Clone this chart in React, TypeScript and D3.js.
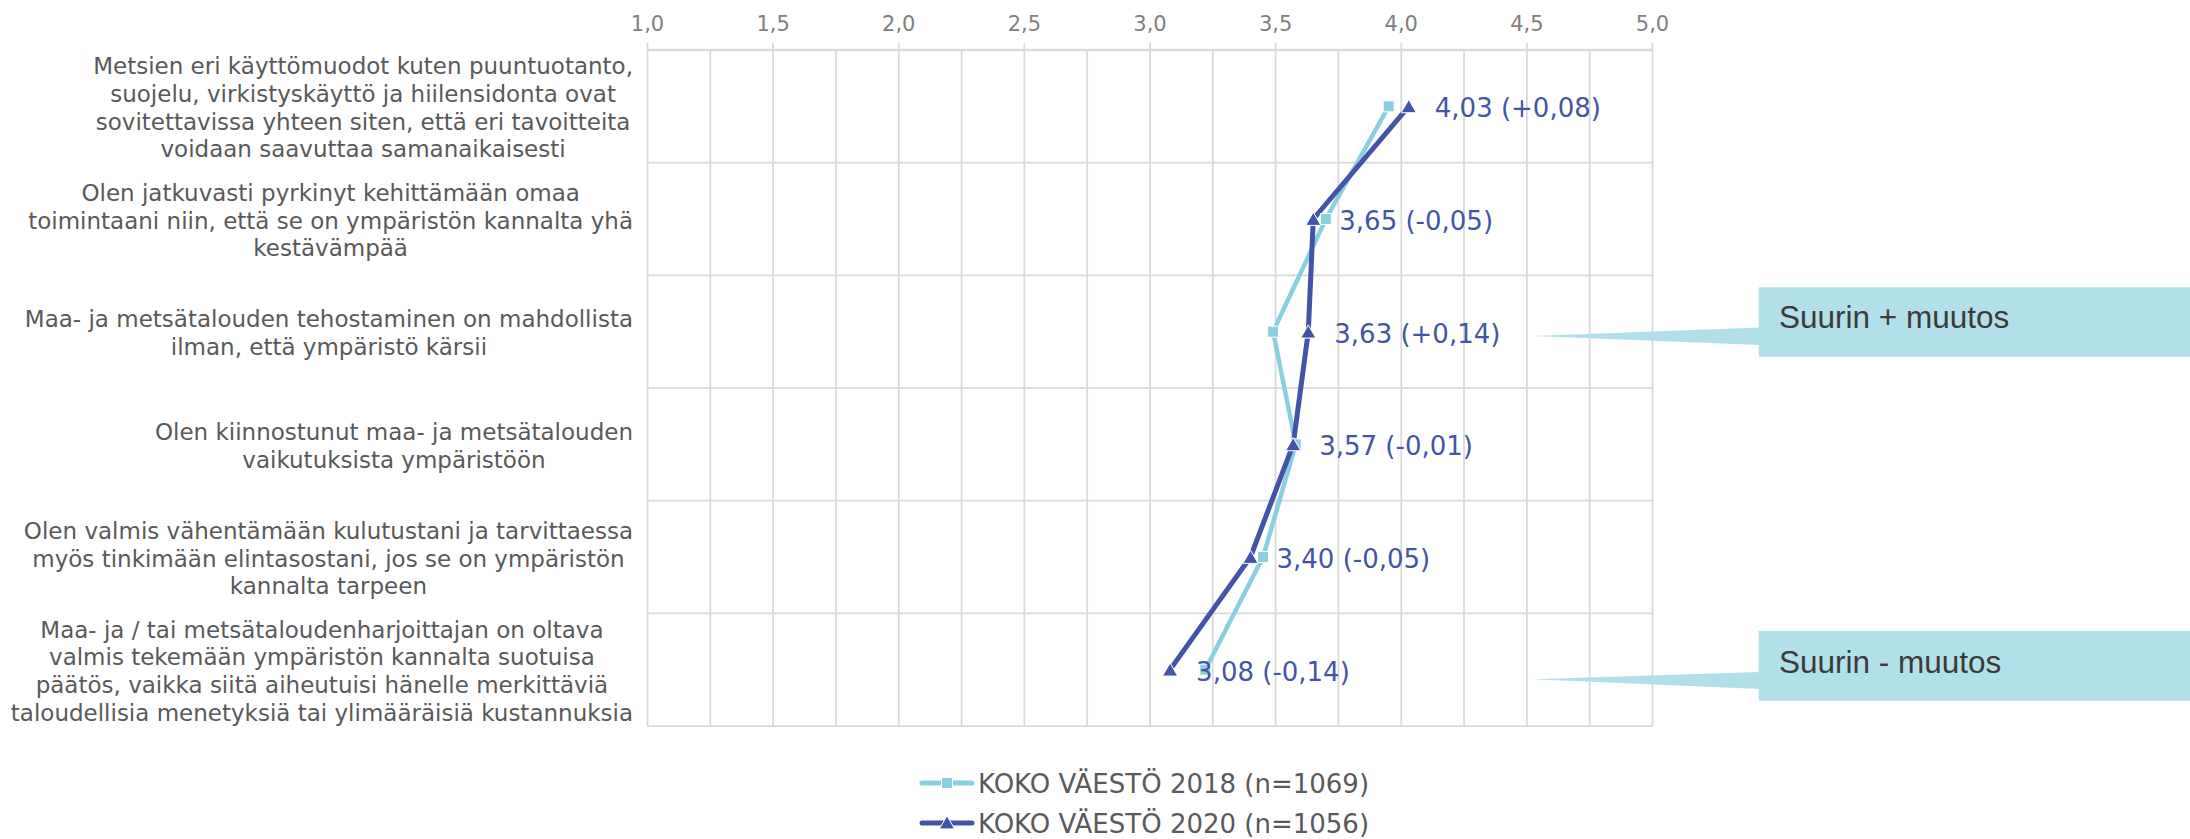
import { useEffect, useRef } from "react";
import * as d3 from "d3";

// väittämät rivitettyinä kuten alkuperäisessä kuvassa
const categories = [
  ["Metsien eri käyttömuodot kuten puuntuotanto,", "suojelu, virkistyskäyttö ja hiilensidonta ovat", "sovitettavissa yhteen siten, että eri tavoitteita", "voidaan saavuttaa samanaikaisesti"],
  ["Olen jatkuvasti pyrkinyt kehittämään omaa", "toimintaani niin, että se on ympäristön kannalta yhä", "kestävämpää"],
  ["Maa- ja metsätalouden tehostaminen on mahdollista", "ilman, että ympäristö kärsii"],
  ["Olen kiinnostunut maa- ja metsätalouden", "vaikutuksista ympäristöön"],
  ["Olen valmis vähentämään kulutustani ja tarvittaessa", "myös tinkimään elintasostani, jos se on ympäristön", "kannalta tarpeen"],
  ["Maa- ja / tai metsätaloudenharjoittajan on oltava", "valmis tekemään ympäristön kannalta suotuisa", "päätös, vaikka siitä aiheutuisi hänelle merkittäviä", "taloudellisia menetyksiä tai ylimääräisiä kustannuksia"],
];

const values2018 = [3.95, 3.7, 3.49, 3.58, 3.45, 3.22];
const values2020 = [4.03, 3.65, 3.63, 3.57, 3.4, 3.08];

const xTicks = [1, 1.5, 2, 2.5, 3, 3.5, 4, 4.5, 5];
const xGrid = [1, 1.25, 1.5, 1.75, 2, 2.25, 2.5, 2.75, 3, 3.25, 3.5, 3.75, 4, 4.25, 4.5, 4.75, 5];

const seriesNames = ["KOKO VÄESTÖ 2018 (n=1069)", "KOKO VÄESTÖ 2020 (n=1056)"];
const seriesColors = ["#89cfde", "#4354a7"];

const calloutTexts = ["Suurin + muutos", "Suurin - muutos"];

const comma = (v: number, d: number) => v.toFixed(d).replace(".", ",");

const App = () => {
  const svgRef = useRef<SVGSVGElement>(null);

  useEffect(() => {
    const W = 2190;
    const H = 839;
    const FONT = "'DejaVu Sans', Verdana, sans-serif";
    const PLOT = { left: 647.5, right: 1652.5, top: 50, bottom: 726 };

    const svg = d3.select(svgRef.current).attr("width", W).attr("height", H);
    svg.selectAll("*").remove();

    const x = d3.scaleLinear().domain([1, 5]).range([PLOT.left, PLOT.right]);
    const y = d3
      .scaleBand<number>()
      .domain(categories.map((_, i) => i))
      .range([PLOT.top, PLOT.bottom]);
    const cy = (i: number) => (y(i) as number) + y.bandwidth() / 2;

    // ruudukko
    const grid = svg.append("g").attr("stroke", "#d9d9d9").attr("stroke-width", 1.75);
    grid
      .selectAll(".vg")
      .data(xGrid)
      .enter()
      .append("line")
      .attr("x1", (d) => x(d))
      .attr("x2", (d) => x(d))
      .attr("y1", PLOT.top)
      .attr("y2", PLOT.bottom);
    grid
      .selectAll(".tick")
      .data(xTicks)
      .enter()
      .append("line")
      .attr("x1", (d) => x(d))
      .attr("x2", (d) => x(d))
      .attr("y1", PLOT.top - 7)
      .attr("y2", PLOT.top);
    const hLines = categories.map((_, i) => y(i) as number).concat([PLOT.bottom]);
    grid
      .selectAll(".hg")
      .data(hLines)
      .enter()
      .append("line")
      .attr("x1", PLOT.left)
      .attr("x2", PLOT.right)
      .attr("y1", (d) => d)
      .attr("y2", (d) => d)
      .attr("stroke-width", (d, i) => (i === 0 ? 2.5 : 1.75));

    // x-akselin tekstit
    svg
      .append("g")
      .selectAll("text")
      .data(xTicks)
      .enter()
      .append("text")
      .attr("x", (d) => x(d))
      .attr("y", 24)
      .attr("text-anchor", "middle")
      .attr("dominant-baseline", "central")
      .attr("font-family", FONT)
      .attr("font-size", 21)
      .attr("fill", "#808080")
      .text((d) => comma(d, 1));

    // luokkien tekstit, keskitetty lohko jonka oikea reuna on 632
    const LINE_H = 27.7;
    const catG = svg.append("g");
    categories.forEach((lines, i) => {
      const t = catG
        .append("text")
        .attr("font-family", FONT)
        .attr("font-size", 23)
        .attr("fill", "#595959")
        .attr("text-anchor", "middle");
      const top = cy(i) + 1.5 - ((lines.length - 1) * LINE_H) / 2;
      const spans = lines.map((line, k) =>
        t
          .append("tspan")
          .attr("y", top + k * LINE_H)
          .attr("dominant-baseline", "central")
          .text(line)
      );
      const maxW = d3.max(spans, (s) => (s.node() as SVGTSpanElement).getComputedTextLength()) || 0;
      spans.forEach((s) => s.attr("x", 633 - maxW / 2));
    });

    // sarjat
    const allValues = [values2018, values2020];
    const line = d3
      .line<number>()
      .x((d) => x(d))
      .y((_, i) => cy(i));

    allValues.forEach((vals, s) => {
      svg
        .append("path")
        .attr("d", line(vals))
        .attr("fill", "none")
        .attr("stroke", seriesColors[s])
        .attr("stroke-width", s === 0 ? 4.5 : 5)
        .attr("stroke-linejoin", "round")
        .attr("stroke-linecap", "round");
    });

    const square = d3.symbol().type(d3.symbolSquare).size(121);
    const triangle = d3.symbol().type(d3.symbolTriangle).size(100);

    svg
      .append("g")
      .selectAll("path")
      .data(values2018)
      .enter()
      .append("path")
      .attr("d", square())
      .attr("transform", (d, i) => `translate(${x(d)},${cy(i)})`)
      .attr("fill", seriesColors[0])
      .attr("stroke", "#fff")
      .attr("stroke-width", 1);

    svg
      .append("g")
      .selectAll("path")
      .data(values2020)
      .enter()
      .append("path")
      .attr("d", triangle())
      .attr("transform", (d, i) => `translate(${x(d)},${cy(i) + 2})`)
      .attr("fill", seriesColors[1])
      .attr("stroke", "#fff")
      .attr("stroke-width", 1);

    // arvot ja muutokset
    svg
      .append("g")
      .selectAll("text")
      .data(values2020)
      .enter()
      .append("text")
      .attr("x", (d) => x(d) + 26)
      .attr("y", (d, i) => cy(i) + 2)
      .attr("dominant-baseline", "central")
      .attr("font-family", FONT)
      .attr("font-size", 26)
      .attr("fill", seriesColors[1])
      .text((d, i) => {
        const diff = d - values2018[i];
        return `${comma(d, 2)} (${diff >= 0 ? "+" : ""}${comma(diff, 2)})`;
      });

    // selite
    const legend = svg.append("g");
    seriesNames.forEach((name, s) => {
      const ly = 783 + s * 40;
      legend
        .append("line")
        .attr("x1", 922)
        .attr("x2", 972)
        .attr("y1", ly)
        .attr("y2", ly)
        .attr("stroke", seriesColors[s])
        .attr("stroke-width", 5)
        .attr("stroke-linecap", "round");
      legend
        .append("path")
        .attr("d", s === 0 ? square() : triangle())
        .attr("transform", `translate(947,${ly + (s === 0 ? 0 : 1.5)})`)
        .attr("fill", seriesColors[s])
        .attr("stroke", "#fff")
        .attr("stroke-width", 1);
      legend
        .append("text")
        .attr("x", 978)
        .attr("y", ly + 1)
        .attr("dominant-baseline", "central")
        .attr("font-family", FONT)
        .attr("font-size", 26)
        .attr("fill", "#595959")
        .text(name);
    });

    // huomiolaatikot
    const calloutLayout = [
      { top: 287.3, bottom: 356.7, tipY: 336, baseTop: 327.5, baseBottom: 345, textY: 317 },
      { top: 631, bottom: 700.7, tipY: 679.3, baseTop: 672, baseBottom: 689, textY: 662 },
    ];
    const BOX_X = 1758.7;
    const TIP_X = 1533;
    calloutTexts.forEach((txt, k) => {
      const c = calloutLayout[k];
      const g = svg.append("g");
      g.append("rect")
        .attr("x", BOX_X)
        .attr("y", c.top)
        .attr("width", W - BOX_X + 10)
        .attr("height", c.bottom - c.top)
        .attr("fill", "#b2e0ea");
      g.append("path")
        .attr("d", `M${TIP_X},${c.tipY}L${BOX_X + 1},${c.baseTop}L${BOX_X + 1},${c.baseBottom}Z`)
        .attr("fill", "#b2e0ea");
      g.append("text")
        .attr("x", 1779)
        .attr("y", c.textY)
        .attr("dominant-baseline", "central")
        .attr("font-family", "'Liberation Sans', Arial, sans-serif")
        .attr("font-size", 31.5)
        .attr("fill", "#3a3a3a")
        .text(txt);
    });
  }, []);

  return <svg ref={svgRef} style={{ position: "absolute", left: 0, top: 0 }} />;
};

export default App;
